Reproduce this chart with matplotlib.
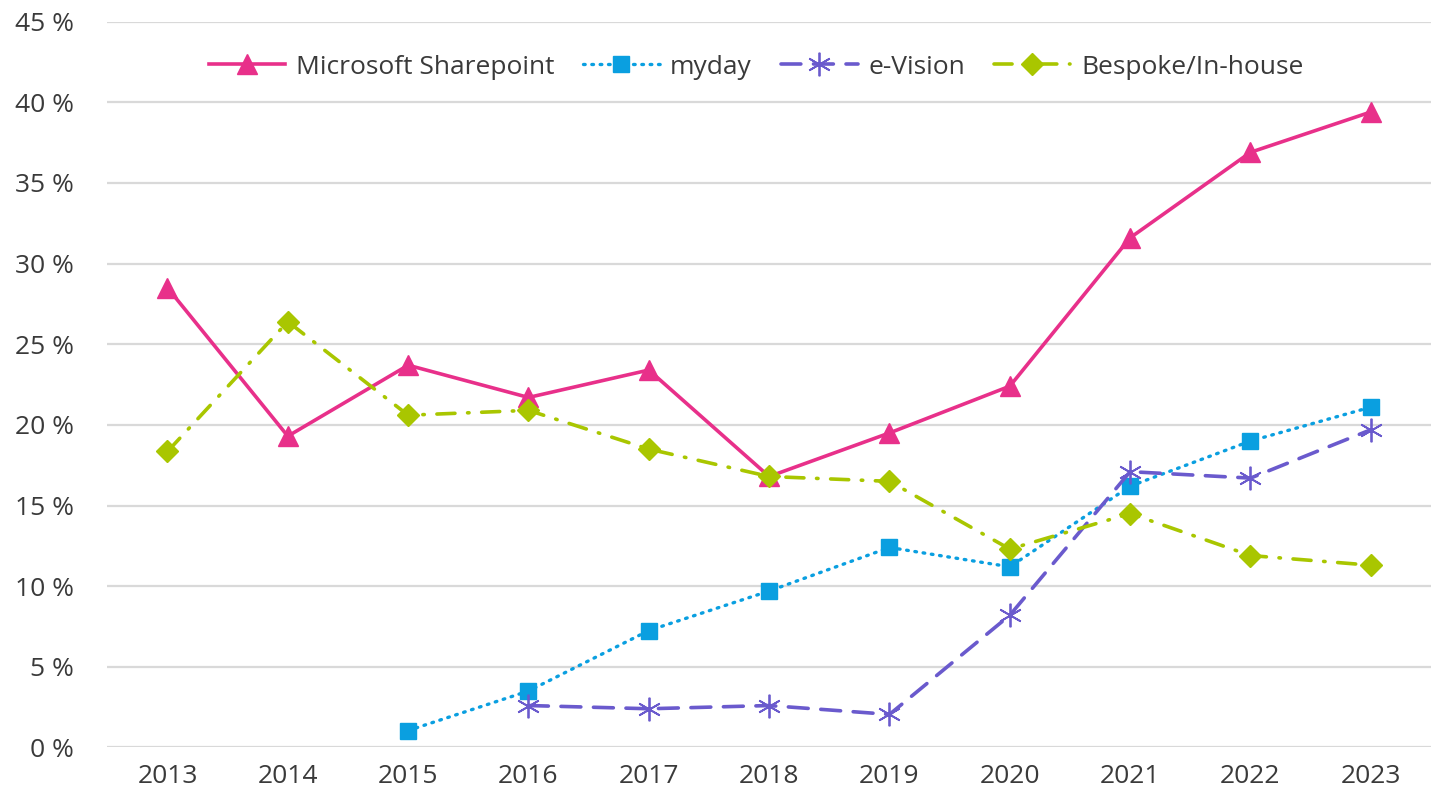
import numpy as np
import matplotlib.pyplot as plt

years = ["2013", "2014", "2015", "2016", "2017", "2018", "2019", "2020", "2021", "2022", "2023"]
sharepoint = [28.5, 19.3, 23.7, 21.7, 23.4, 16.8, 19.5, 22.4, 31.6, 36.9, 39.4]
myday = [None, None, 1.05, 3.5, 7.25, 9.7, 12.4, 11.2, 16.2, 19.0, 21.1]
evision = [None, None, None, 2.6, 2.4, 2.6, 2.05, 8.2, 17.1, 16.7, 19.7]
bespoke = [18.35, 26.4, 20.6, 20.9, 18.5, 16.8, 16.5, 12.3, 14.5, 11.9, 11.3]

def arr(v):
    return np.array([np.nan if x is None else x for x in v], dtype=float)

plt.rcParams['font.family'] = ['Open Sans', 'DejaVu Sans']

fig = plt.figure(figsize=(14.31, 8.02), dpi=100)
ax = fig.add_axes([0.075, 0.068, 0.925, 0.905])
x = np.arange(len(years))

ax.plot(x, arr(sharepoint), color='#E8308A', lw=2.6, marker='^', ms=15,
        label='Microsoft Sharepoint')
ax.plot(x, arr(myday), color='#0A9FE0', lw=2.4, ls=(0, (0.5, 2.0)), dash_capstyle='round',
        marker='s', ms=12, label='myday')
ax.plot(x, arr(evision), color='#6A5ACD', lw=2.6, ls=(0, (5.5, 3.5)), dash_capstyle='round',
        marker=(6, 2, 0), ms=17, mew=1.3, label='e-Vision')
ax.plot(x, arr(bespoke), color='#A9C600', lw=2.6, ls=(0, (5, 3.5, 0.4, 3.5)), dash_capstyle='round',
        marker='D', ms=11.5, label='Bespoke/In-house')

ax.set_xlim(-0.5, len(years) - 0.5)
ax.set_ylim(0, 45)
ax.set_yticks(np.arange(0, 46, 5))
ax.set_yticklabels([f"{v} %" for v in range(0, 46, 5)])
ax.set_xticks(x)
ax.set_xticklabels(years)
ax.grid(axis='y', color='#D9D9D9', lw=1.6)
ax.set_axisbelow(True)
for s in ax.spines.values():
    s.set_visible(False)
ax.tick_params(length=0, labelsize=19, colors='#3A3A3A', pad=12)
ax.tick_params(axis='y', pad=24)
for lab in ax.get_yticklabels():
    lab.set_horizontalalignment('right')

leg = ax.legend(loc='upper center', bbox_to_anchor=(0.49, 0.98), ncol=4, frameon=True,
                edgecolor='none', facecolor='white', framealpha=1, fontsize=19,
                handlelength=2.9, columnspacing=1.1, handletextpad=0.4, borderpad=0.2)
for t in leg.get_texts():
    t.set_color('#3A3A3A')

fig.savefig('out.png', dpi=100)
